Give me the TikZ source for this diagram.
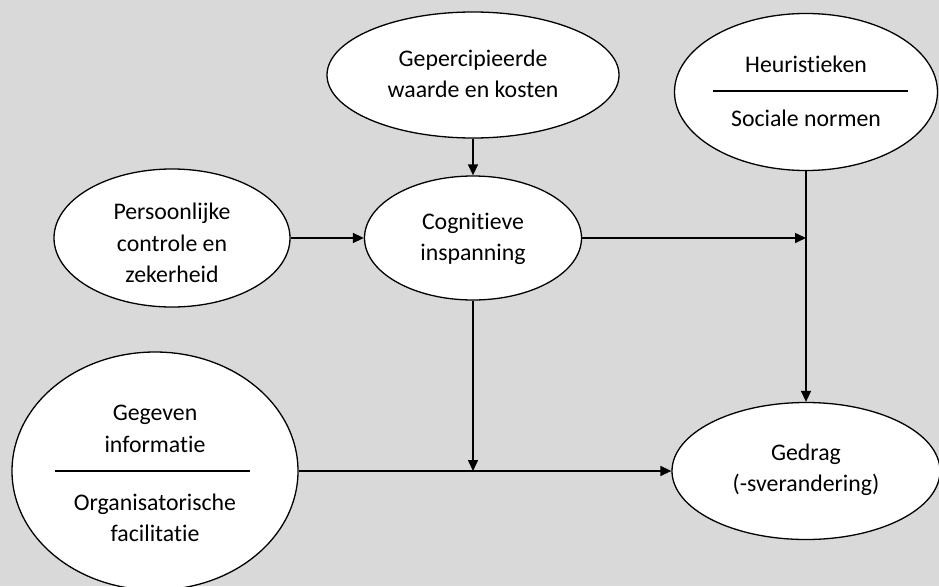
\documentclass[tikz,border=0pt]{standalone}
\usepackage{fontspec}
\setmainfont{Carlito}[Ligatures={NoCommon,NoRare,NoContextual}]
\usetikzlibrary{shapes.geometric,arrows.meta}
\definecolor{panelgray}{RGB}{217,217,217}
\tikzset{
  oval/.style={ellipse, draw=black, line width=1.3pt, fill=white, inner sep=0pt},
  lbl/.style={align=center, font=\fontsize{23.8}{31.5}\selectfont, inner sep=0pt},
  link/.style={line width=1.5pt, -{Triangle[length=11pt,width=10pt]}},
  divider/.style={line width=1.3pt}
}
\begin{document}
\begin{tikzpicture}[x=1pt,y=-1pt]
  \useasboundingbox (0,0) rectangle (939,586);
  \clip (0,0) rectangle (939,586);
  \fill[panelgray] (0,0) rectangle (939,586);

  % the six factors
  \node[oval, minimum width=292pt, minimum height=126pt] (gep) at (473,75) {};
  \node[lbl] (geptxt) at (473,74) {Gepercipieerde\\waarde en kosten};

  \node[oval, minimum width=217pt, minimum height=124pt] (cog) at (473,238) {};
  \node[lbl] (cogtxt) at (473,239) {Cognitieve\\inspanning};

  \node[oval, minimum width=236pt, minimum height=138pt] (pers) at (172,238) {};
  \node[lbl] (perstxt) at (172,243) {Persoonlijke\\controle en\\zekerheid};

  \node[oval, minimum width=263pt, minimum height=157pt] (heur) at (806,92) {};
  \node[lbl] (heurtop) at (806,64) {Heuristieken};
  \node[lbl] (heurbot) at (806,118) {Sociale normen};
  \draw[divider] (713,91) -- (908,91);

  \node[oval, minimum width=286pt, minimum height=238pt] (geg) at (155,471) {};
  \node[lbl] (gegtop) at (155,429) {Gegeven\\informatie};
  \node[lbl] (gegbot) at (155,518) {Organisatorische\\facilitatie};
  \draw[divider] (55,471) -- (250,471);

  \node[oval, minimum width=268pt, minimum height=137pt] (ged) at (806,471) {};
  \node[lbl] (gedtxt) at (806,470) {Gedrag\\(-sverandering)};

  % junction points where the arrows meet the through lines
  \coordinate (j1) at (cog.east -| heur.south);
  \coordinate (j2) at (cog.south |- geg.east);

  % connectors
  \draw[link] (gep.south) -- (cog.north);
  \draw[link] (pers.east) -- (cog.west);
  \draw[link] (cog.east) -- (j1);
  \draw[link] (heur.south) -- (ged.north);
  \draw[link] (cog.south) -- (j2);
  \draw[link] (geg.east) -- (ged.west);
\end{tikzpicture}
\end{document}
